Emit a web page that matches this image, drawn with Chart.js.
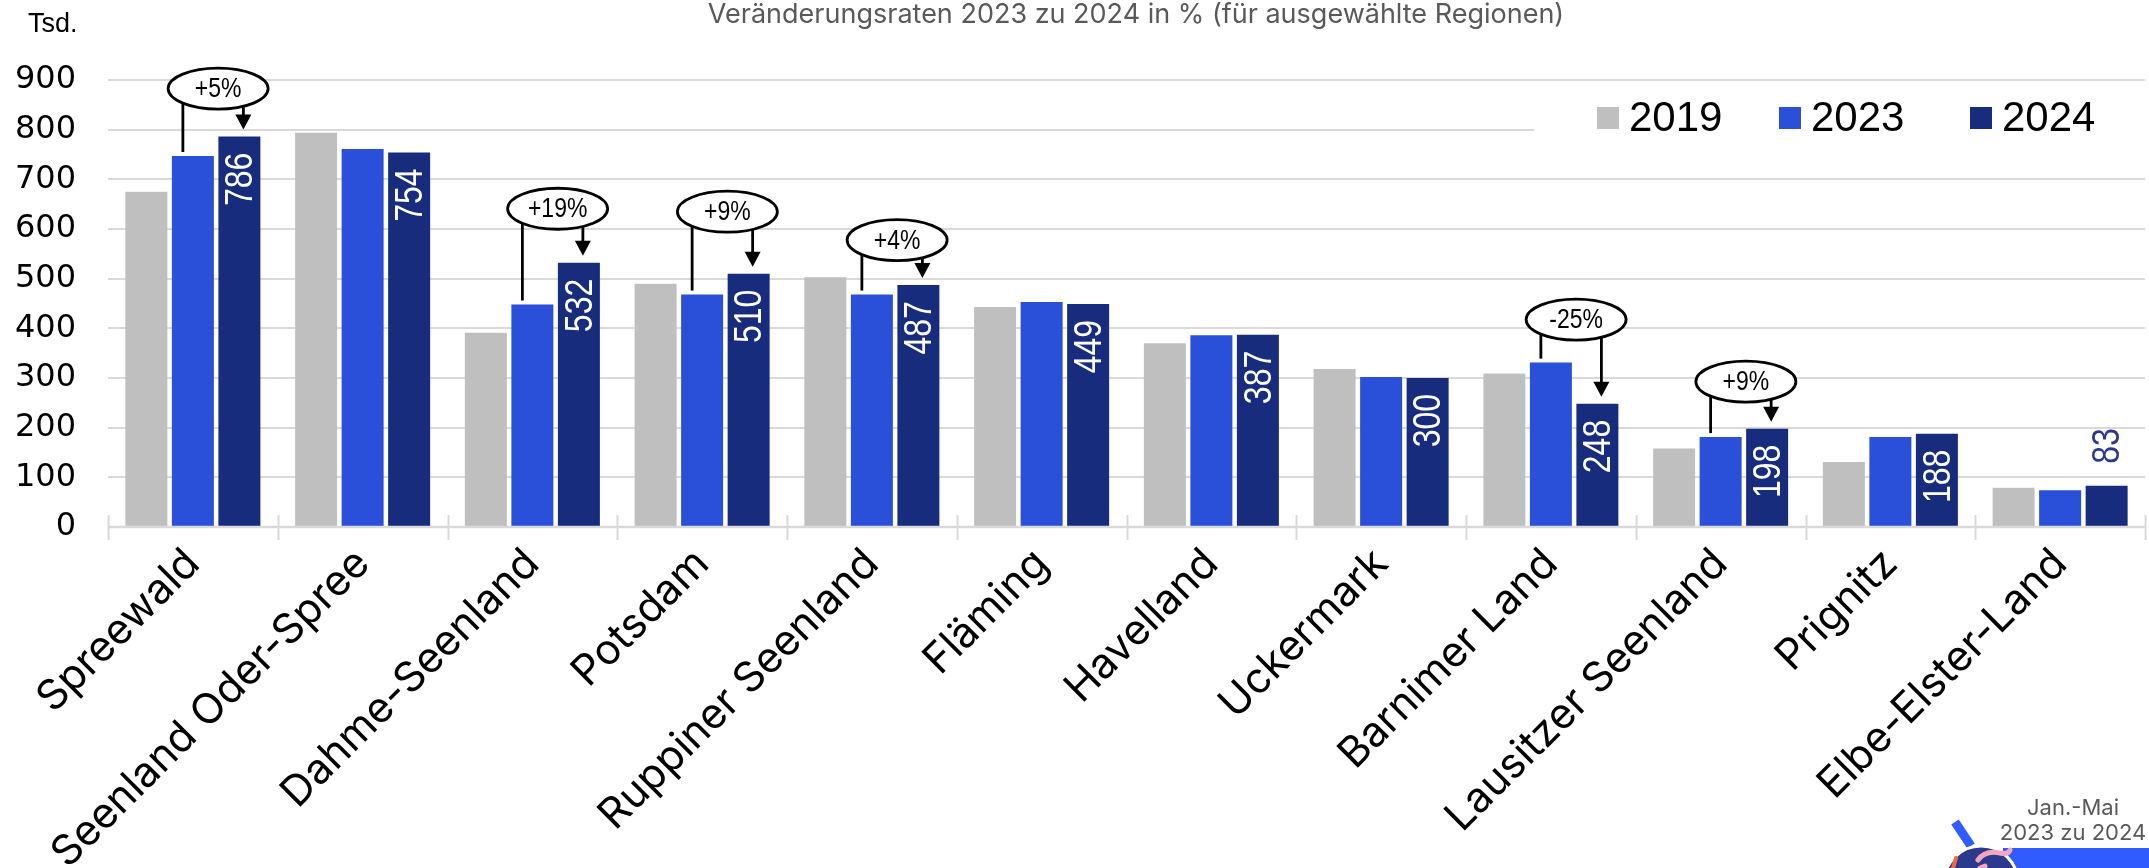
<!DOCTYPE html>
<html>
<head>
<meta charset="utf-8">
<script src="https://cdn.jsdelivr.net/npm/chart.js@4/dist/chart.umd.min.js"></script>
<style>
html,body{margin:0;padding:0;background:#fff;overflow:hidden}
#wrap{position:relative;width:2149px;height:868px}
</style>
</head>
<body>
<div id="wrap"><canvas id="c" width="2149" height="868"></canvas></div>
<script>
// ---- data ----
const categories = ["Spreewald","Seenland Oder-Spree","Dahme-Seenland","Potsdam","Ruppiner Seenland","Fläming","Havelland","Uckermark","Barnimer Land","Lausitzer Seenland","Prignitz","Elbe-Elster-Land"];
const seriesLabels = ["2019","2023","2024"];
const values2019 = [675,794,391,490,503,443,370,318,309,158,131,79];
const values2023 = [747,761,448,468,468,453,386,302,331,181,181,74];
const values2024 = [786,754,532,510,487,449,387,300,248,198,188,83];
const yTickValues = [0,100,200,300,400,500,600,700,800,900];
const changeRegions = ["Spreewald","Dahme-Seenland","Potsdam","Ruppiner Seenland","Barnimer Land","Lausitzer Seenland"];
const changeLabels = ["+5%","+19%","+9%","+4%","-25%","+9%"];
const subtitleText = "Veränderungsraten 2023 zu 2024 in % (für ausgewählte Regionen)";
const unitText = "Tsd.";
const badgeLines = ["Jan.-Mai","2023 zu 2024"];

// ---- styling / layout (not data) ----
const colors = ["#BFBFBF","#2A4FD8","#172C7C"];
const bubbleLift = [48,54,62,45,43,47];
const gridGray = "#D9D9D9";

const NARROW = '"Liberation Sans Narrow","Arial Narrow"';
function narrowFont(ctx, size){
  ctx.font = size + 'px ' + NARROW + ',"Liberation Sans"';
  const w1 = ctx.measureText("0123456789").width;
  ctx.font = size + 'px "Liberation Sans"';
  const w2 = ctx.measureText("0123456789").width;
  ctx.font = size + 'px ' + NARROW + ',"Liberation Sans"';
  return Math.abs(w1 - w2) < 0.5 ? 0.82 : 1;
}

const decor = {
  id: 'decor',
  beforeDraw(chart){
    const ctx = chart.ctx;
    ctx.save();
    ctx.fillStyle = '#fff';
    ctx.fillRect(0,0,chart.width,chart.height);
    ctx.restore();
  },
  afterDatasetsDraw(chart){
    const ctx = chart.ctx;
    const area = chart.chartArea;
    const xs = chart.scales.x;
    ctx.save();

    // category boundary tick marks crossing the axis
    ctx.strokeStyle = gridGray;
    ctx.lineWidth = 2;
    const n = categories.length;
    const step = (xs.right - xs.left) / n;
    for (let i = 0; i <= n; i++){
      const x = Math.round(xs.left + i*step) + 0.5;
      ctx.beginPath(); ctx.moveTo(x, area.bottom - 12); ctx.lineTo(x, area.bottom + 13); ctx.stroke();
    }
    ctx.lineWidth = 2.5;
    ctx.beginPath(); ctx.moveTo(area.left, area.bottom); ctx.lineTo(area.right, area.bottom); ctx.stroke();

    // value labels on 2024 bars
    const meta2 = chart.getDatasetMeta(2);
    const sc = narrowFont(ctx, 39);
    meta2.data.forEach((bar, i) => {
      const v = values2024[i];
      ctx.save();
      ctx.translate(bar.x, 0);
      const inside = (bar.base - bar.y) > 90;
      if (inside){
        ctx.translate(0, bar.y + 16);
        ctx.rotate(-Math.PI/2);
        ctx.scale(sc,1);
        ctx.fillStyle = '#fff';
        ctx.textAlign = 'right';
      } else {
        ctx.translate(0, bar.y - 22);
        ctx.rotate(-Math.PI/2);
        ctx.scale(sc,1);
        ctx.fillStyle = '#2B3990';
        ctx.textAlign = 'left';
      }
      ctx.textBaseline = 'middle';
      ctx.fillText(String(v), 0, 2);
      ctx.restore();
    });

    // change annotations
    const meta1 = chart.getDatasetMeta(1);
    changeRegions.forEach((name, k) => {
      const i = categories.indexOf(name);
      const b = meta1.data[i], c = meta2.data[i];
      const top = Math.min(b.y, c.y);
      const cy = top - bubbleLift[k];
      const cx = (b.x + c.x)/2 + 2;
      ctx.strokeStyle = '#000'; ctx.fillStyle = '#000'; ctx.lineWidth = 2.8;
      const lx = b.x - 10;
      ctx.beginPath(); ctx.moveTo(lx, cy); ctx.lineTo(lx, b.y - 4); ctx.stroke();
      const ax = c.x + 4, tip = c.y - 7;
      ctx.beginPath(); ctx.moveTo(ax, cy); ctx.lineTo(ax, tip - 14); ctx.stroke();
      ctx.beginPath(); ctx.moveTo(ax - 8, tip - 15); ctx.lineTo(ax + 8, tip - 15); ctx.lineTo(ax, tip); ctx.closePath(); ctx.fill();
      ctx.beginPath(); ctx.ellipse(cx, cy, 50, 20.5, 0, 0, Math.PI*2);
      ctx.fillStyle = '#fff'; ctx.fill(); ctx.stroke();
      ctx.save();
      const s2 = narrowFont(ctx, 28);
      ctx.translate(cx, cy + 1);
      ctx.scale(s2, 1);
      ctx.fillStyle = '#000'; ctx.textAlign = 'center'; ctx.textBaseline = 'middle';
      ctx.fillText(changeLabels[k], 0, 0);
      ctx.restore();
    });

    // legend (white box covers gridline)
    ctx.fillStyle = '#fff';
    ctx.fillRect(1534, 90, chart.width - 1534, 78);
    const lgX = [1597, 1779, 1970];
    ctx.font = '42px "Liberation Sans"';
    ctx.textAlign = 'left'; ctx.textBaseline = 'alphabetic';
    seriesLabels.forEach((lab, k) => {
      ctx.fillStyle = colors[k];
      ctx.fillRect(lgX[k], 107, 22, 22);
      ctx.fillStyle = '#000';
      ctx.fillText(lab, lgX[k] + 32, 131);
    });

    // subtitle & unit
    ctx.font = '27px Inter';
    ctx.fillStyle = '#595959';
    ctx.textAlign = 'center';
    ctx.fillText(subtitleText, 1136, 23);
    ctx.font = '27px "Liberation Sans"';
    ctx.fillStyle = '#000';
    ctx.textAlign = 'left';
    ctx.fillText(unitText, 28, 32);

    // badge bottom right
    ctx.fillStyle = '#2F5BFF';
    ctx.fillRect(2003, 848, chart.width - 2003, 20);
    ctx.strokeStyle = '#2F5BFF'; ctx.lineWidth = 9;
    ctx.beginPath(); ctx.moveTo(1955, 822); ctx.lineTo(1971, 846); ctx.stroke();
    ctx.beginPath(); ctx.arc(1981, 883, 37, 0, Math.PI*2);
    ctx.fillStyle = '#2B3A8C'; ctx.fill();
    ctx.strokeStyle = '#fff'; ctx.lineWidth = 3; ctx.stroke();
    ctx.strokeStyle = '#F4A6C0'; ctx.lineWidth = 5; ctx.lineCap = 'round';
    ctx.beginPath(); ctx.moveTo(1978, 860); ctx.quadraticCurveTo(1985, 850, 2000, 853); ctx.quadraticCurveTo(2008, 855, 2010, 850); ctx.stroke();
    ctx.beginPath(); ctx.moveTo(1985, 866); ctx.lineTo(1980, 868); ctx.stroke();
    ctx.strokeStyle = '#F26B3A'; ctx.lineWidth = 4;
    ctx.beginPath(); ctx.moveTo(1956, 858); ctx.lineTo(1953, 868); ctx.stroke();
    ctx.font = '22px Inter';
    ctx.fillStyle = '#595959';
    ctx.textAlign = 'center';
    ctx.fillText(badgeLines[0], 2073, 815);
    ctx.fillText(badgeLines[1], 2073, 840);
    ctx.restore();
  }
};

new Chart(document.getElementById('c'), {
  type: 'bar',
  data: {
    labels: categories,
    datasets: [
      { label: seriesLabels[0], data: values2019, backgroundColor: colors[0] },
      { label: seriesLabels[1], data: values2023, backgroundColor: colors[1] },
      { label: seriesLabels[2], data: values2024, backgroundColor: colors[2] }
    ]
  },
  options: {
    responsive: false,
    animation: false,
    devicePixelRatio: 1,
    categoryPercentage: 0.822,
    barPercentage: 0.903,
    layout: { padding: { top: 80, right: 4, left: 0, bottom: 0 } },
    plugins: { legend: { display: false }, tooltip: { enabled: false }, title: { display: false } },
    scales: {
      x: {
        grid: { display: false, drawTicks: false },
        border: { display: false },
        ticks: {
          autoSkip: false, maxRotation: 45, minRotation: 45,
          font: { family: 'Inter', size: 42 }, color: '#000', padding: 12
        },
        afterFit(s){ s.height = 868 - 527; }
      },
      y: {
        min: 0, max: 900,
        border: { display: false },
        grid: { color: gridGray, lineWidth: 2, drawTicks: false },
        afterBuildTicks(s){ s.ticks = yTickValues.map(v => ({ value: v })); },
        ticks: { padding: 32, font: { family: 'DejaVu Sans', size: 32 }, color: '#000' },
        afterFit(s){ s.width = 108; }
      }
    }
  },
  plugins: [decor]
});
</script>
</body>
</html>
